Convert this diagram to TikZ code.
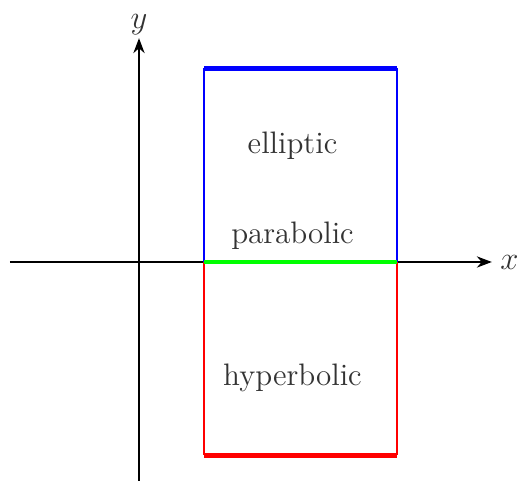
\documentclass[tikz,border=0pt]{standalone}
\usepackage{tikz}
\usetikzlibrary{arrows.meta}
\begin{document}
\begin{tikzpicture}[>=Stealth,font=\fontsize{13.7pt}{16pt}\selectfont,
    axis/.style={->,thick},side/.style={line width=1pt},edge/.style={line width=1.8pt},
    lbl/.style={text=black!80}]
        \useasboundingbox (-2.155,-3.38) rectangle (5.876,4.062);
        \coordinate (xs) at (-2,0); \coordinate (xe) at (5.47,0);
        \coordinate (ys) at (0,-3.5); \coordinate (ye) at (0,3.47);
        \draw[axis] (xs)--(xe) node[right,lbl]{$x$};
        \draw[axis] (ys)--(ye) node[above,lbl,inner sep=1pt]{$y$};
        \coordinate (tl) at (1.01,3); \coordinate (tr) at (4,3);
        \coordinate (ml) at (1.01,0); \coordinate (mr) at (4,0);
        \coordinate (bl) at (1.01,-3); \coordinate (br) at (4,-3);
        \draw[side,blue] (ml)--(tl) (mr)--(tr); \draw[edge,blue] (tl)--(tr);
        \draw[side,red] (ml)--(bl) (mr)--(br); \draw[edge,red] (bl)--(br);
        \draw[edge,green] (ml)--(mr);
        \node[lbl] (ell) at (2.38,1.8) {elliptic};
        \node[lbl] (par) at (2.38,0.4) {parabolic};
        \node[lbl] (hyp) at (2.38,-1.8) {hyperbolic};
      \end{tikzpicture}
\end{document}
